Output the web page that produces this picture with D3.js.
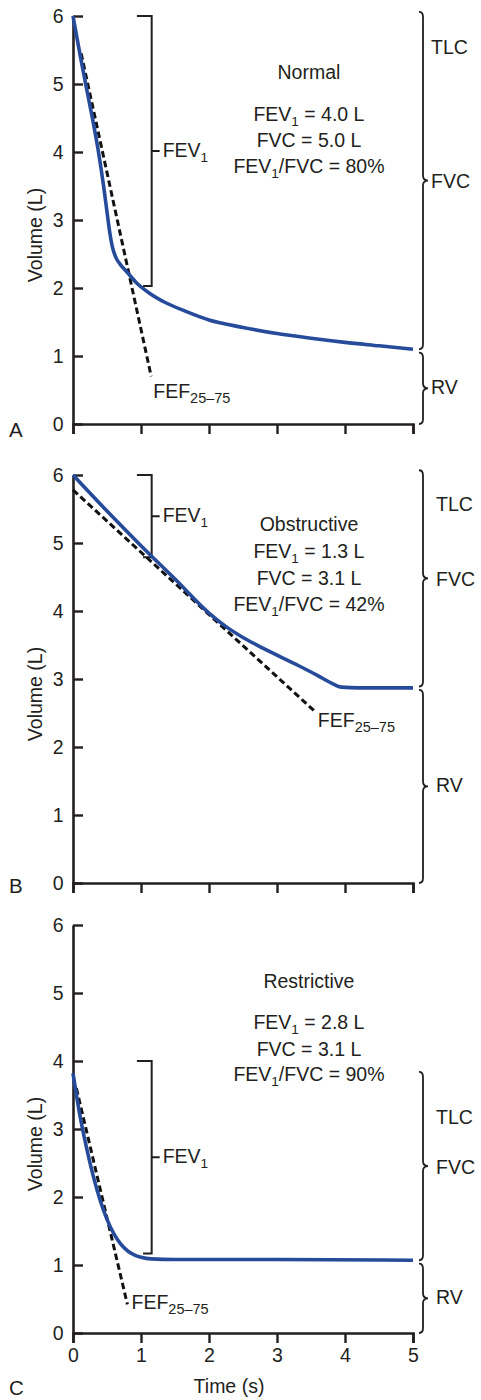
<!DOCTYPE html>
<html>
<head>
<meta charset="utf-8">
<script src="https://cdn.jsdelivr.net/npm/d3@7"></script>
<style>
	body { margin: 0; background: #fff; }
	svg text { font-family: "Liberation Sans", Arial, Helvetica, sans-serif; fill: #231f20; }
</style>
</head>
<body>
<div id="graphic"></div>
<script>
// ---- data ----
const xTicks = [0, 1, 2, 3, 4, 5];
const yTicks = [0, 1, 2, 3, 4, 5, 6];
const panelLetters = ['A', 'B', 'C'];
const panelNames = ['Normal', 'Obstructive', 'Restrictive'];

const normalTime = [0, 0.1, 0.2, 0.3, 0.37, 0.45, 0.5, 0.54, 0.58, 0.63, 0.7, 0.79, 0.94, 1.13, 1.35, 1.65, 2.0, 2.5, 3.0, 3.5, 4.0, 4.5, 5.0];
const normalVolume = [6, 5.45, 4.93, 4.42, 4.03, 3.5, 3.12, 2.82, 2.6, 2.45, 2.34, 2.24, 2.07, 1.92, 1.79, 1.66, 1.53, 1.42, 1.33, 1.26, 1.2, 1.15, 1.1];

const obstructiveTime = [0, 0.5, 1.0, 1.5, 2.0, 2.25, 2.5, 2.8, 3.29, 3.6, 3.8, 3.95, 4.2, 5.0];
const obstructiveVolume = [6, 5.47, 4.96, 4.47, 3.97, 3.77, 3.61, 3.45, 3.21, 3.05, 2.94, 2.88, 2.87, 2.87];

const restrictiveTime = [0, 0.1, 0.2, 0.3, 0.4, 0.5, 0.6, 0.7, 0.8, 0.9, 1.0, 1.15, 1.5, 3.0, 5.0];
const restrictiveVolume = [3.82, 3.21, 2.72, 2.3, 1.95, 1.67, 1.46, 1.31, 1.21, 1.15, 1.115, 1.09, 1.08, 1.08, 1.07];

// FEF25-75 tangent lines: [t0, v0, t1, v1]
const fefLines = [[0.12, 5.45, 1.15, 0.7], [0, 5.78, 3.56, 2.52], [0.05, 3.6, 0.8, 0.42]];
// FEV1 brackets: [top volume, bottom volume]
const fev1Brackets = [[6, 2.03], [6, 4.79], [4.0, 1.17]];

const fev1Values = [4.0, 1.3, 2.8];
const fvcValues = [5.0, 3.1, 3.1];
const ratioValues = [80, 42, 90];

// braces on the right: top of FVC brace, residual volume level
const tlcTop = [6.06, 6.07, 3.84];
const rvLevel = [1.08, 2.87, 1.05];

// ---- layout ----
const width = 481, height = 1400;
const panelTops = [16, 475, 925];
const plotH = 408;
const blue = '#264b9b';
const ink = '#231f20';
const fontSize = 19.5;

// per panel annotation anchors (data units)
const layout = [
	{ statV: [5.07, 4.46, 4.07, 3.69], fef: [1.18, 0.38], tlcV: 5.55, labelDx: 8, letterY: 421 },
	{ statV: [5.18, 4.78, 4.38, 4.0], fef: [3.6, 2.3], tlcV: 5.58, labelDx: 13, letterY: 418 },
	{ statV: [5.07, 4.47, 4.07, 3.7], fef: [0.86, 0.36], tlcV: 3.18, labelDx: 13, letterY: 470 }
];

const series = [
	normalTime.map((t, i) => ({ t: t, v: normalVolume[i] })),
	obstructiveTime.map((t, i) => ({ t: t, v: obstructiveVolume[i] })),
	restrictiveTime.map((t, i) => ({ t: t, v: restrictiveVolume[i] }))
];

const x = d3.scaleLinear().domain([0, 5]).range([73, 413]);
const y = d3.scaleLinear().domain([0, 6]).range([plotH, 0]);

const svg = d3.select('#graphic').append('svg')
	.attr('width', width)
	.attr('height', height);

// text with subscripts: parts = [[text, isSub], ...]
function richText(sel, parts, subSize) {
	let shifted = false;
	parts.forEach(function (p) {
		const ts = sel.append('tspan').text(p[0]);
		if (p[1] && !shifted) { ts.attr('dy', 5).attr('font-size', subSize); shifted = true; }
		else if (p[1]) { ts.attr('font-size', subSize); }
		else if (shifted) { ts.attr('dy', -5); shifted = false; }
	});
}

function bracePath(bx, y1, y2) {
	const m = (y1 + y2) / 2, c = 5;
	return 'M' + (bx - 4) + ',' + y1 +
		' Q' + bx + ',' + y1 + ' ' + bx + ',' + (y1 + c) +
		' L' + bx + ',' + (m - c) +
		' Q' + bx + ',' + m + ' ' + (bx + 5) + ',' + m +
		' Q' + bx + ',' + m + ' ' + bx + ',' + (m + c) +
		' L' + bx + ',' + (y2 - c) +
		' Q' + bx + ',' + y2 + ' ' + (bx - 4) + ',' + y2;
}

const line = d3.line()
	.x((d) => x(d.t))
	.y((d) => y(d.v))
	.curve(d3.curveMonotoneX);

panelTops.forEach(function (top, i) {
	const g = svg.append('g').attr('transform', 'translate(0,' + top + ')');
	const L = layout[i];

	// y axis with inward ticks
	const yAxis = g.append('g')
		.attr('transform', 'translate(' + x(0) + ',0)')
		.call(d3.axisLeft(y).tickValues(yTicks).tickFormat(d3.format('d'))
			.tickSizeInner(-10).tickSizeOuter(0).tickPadding(9.5));

	// x axis with downward ticks
	const xAxis = g.append('g')
		.attr('transform', 'translate(0,' + plotH + ')')
		.call(d3.axisBottom(x).tickValues(xTicks).tickSize(10).tickPadding(5)
			.tickFormat(i == 2 ? d3.format('d') : () => ''));

	[yAxis, xAxis].forEach(function (a) {
		a.select('.domain').attr('stroke', ink).attr('stroke-width', 2.6);
		a.selectAll('.tick line').attr('stroke', ink).attr('stroke-width', 2.4);
		a.selectAll('text').attr('font-size', fontSize).attr('fill', ink)
			.style('font-family', '"Liberation Sans", Arial, sans-serif');
	});

	// y axis title
	g.append('text')
		.attr('transform', 'translate(42,219) rotate(-90)')
		.attr('text-anchor', 'middle')
		.attr('font-size', fontSize)
		.text('Volume (L)');

	// panel letter
	g.append('text')
		.attr('x', 9)
		.attr('y', L.letterY)
		.attr('font-size', 20.5)
		.text(panelLetters[i]);

	// FEV1 bracket
	const br = fev1Brackets[i];
	const bx = x(1.157);
	g.append('path')
		.attr('d', 'M' + x(0.94) + ',' + y(br[0]) + ' H' + bx + ' V' + y(br[1]) + ' H' + x(1.03) +
			' M' + bx + ',' + y((br[0] + br[1]) / 2) + ' H' + (bx + 8))
		.attr('fill', 'none')
		.attr('stroke', ink)
		.attr('stroke-width', 2);
	richText(g.append('text')
		.attr('x', bx + 11)
		.attr('y', y((br[0] + br[1]) / 2) + 6)
		.attr('font-size', fontSize), [['FEV', false], ['1', true]], 13.5);

	// FEF25-75 dashed tangent
	const f = fefLines[i];
	g.append('line')
		.attr('x1', x(f[0])).attr('y1', y(f[1]))
		.attr('x2', x(f[2])).attr('y2', y(f[3]))
		.attr('stroke', '#111')
		.attr('stroke-width', 3)
		.attr('stroke-dasharray', '6.5,3.5');
	richText(g.append('text')
		.attr('x', x(L.fef[0]))
		.attr('y', y(L.fef[1]))
		.attr('font-size', fontSize), [['FEF', false], ['25\u201375', true]], 14.5);

	// volume-time curve
	g.append('path')
		.datum(series[i])
		.attr('d', line)
		.attr('fill', 'none')
		.attr('stroke', blue)
		.attr('stroke-width', 3.6)
		.attr('stroke-linecap', 'butt');

	// stats block
	const cx = x(3.47);
	const statLines = [
		[[panelNames[i], false]],
		[['FEV', false], ['1', true], [' = ' + d3.format('.1f')(fev1Values[i]) + ' L', false]],
		[['FVC = ' + d3.format('.1f')(fvcValues[i]) + ' L', false]],
		[['FEV', false], ['1', true], ['/FVC = ' + ratioValues[i] + '%', false]]
	];
	statLines.forEach(function (parts, k) {
		richText(g.append('text')
			.attr('x', cx)
			.attr('y', y(L.statV[k]))
			.attr('text-anchor', 'middle')
			.attr('font-size', fontSize), parts, 13.5);
	});

	// right braces
	const rx = x(5) + 10;
	g.append('path')
		.attr('d', bracePath(rx, y(tlcTop[i]), y(rvLevel[i] + 0.02)))
		.attr('fill', 'none').attr('stroke', ink).attr('stroke-width', 1.8);
	g.append('path')
		.attr('d', bracePath(rx, y(rvLevel[i] - 0.03), y(0)))
		.attr('fill', 'none').attr('stroke', ink).attr('stroke-width', 1.8);

	const lx = rx + L.labelDx;
	[['TLC', L.tlcV], ['FVC', (tlcTop[i] + rvLevel[i]) / 2], ['RV', rvLevel[i] / 2]].forEach(function (d) {
		g.append('text')
			.attr('x', lx)
			.attr('y', y(d[1]))
			.attr('dy', '0.36em')
			.attr('font-size', fontSize)
			.text(d[0]);
	});
});

// x axis title
svg.append('text')
	.attr('x', 229)
	.attr('y', 1393)
	.attr('text-anchor', 'middle')
	.attr('font-size', fontSize)
	.text('Time (s)');
</script>
</body>
</html>
